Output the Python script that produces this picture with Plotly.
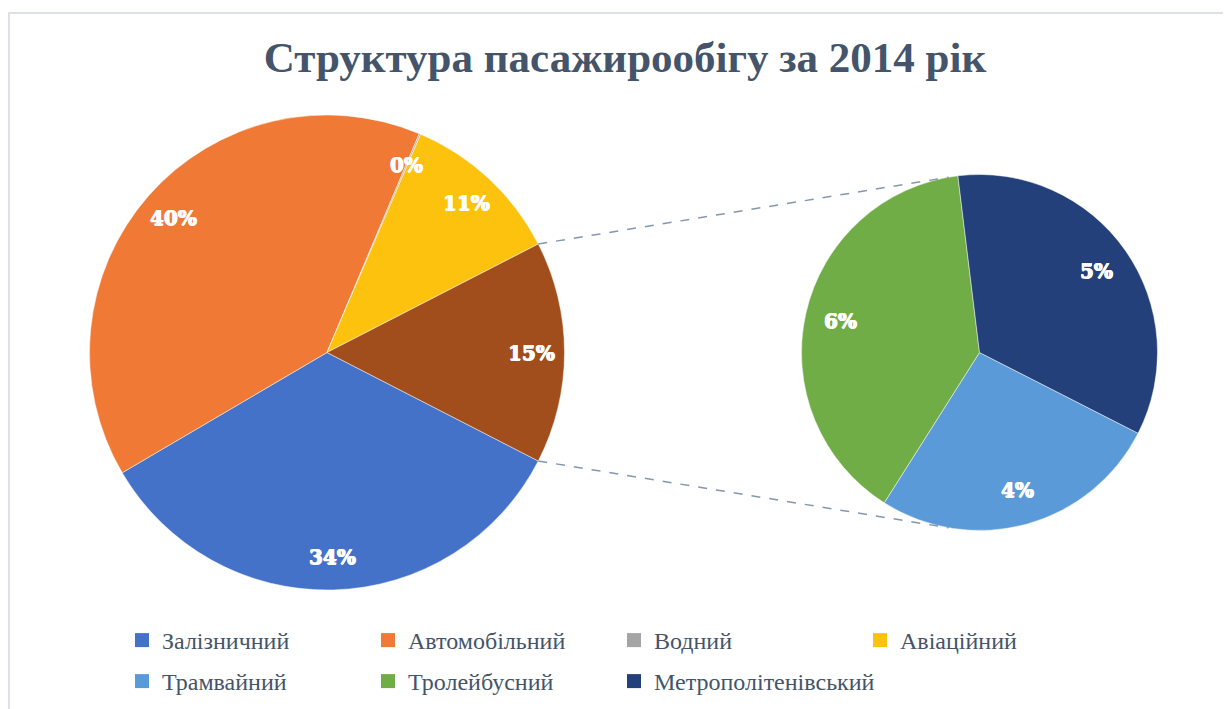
import math
import plotly.graph_objects as go

W, H = 1231, 709
OFF = 8                      # browser body margin
FW, FH = W - OFF, H - OFF    # figure size

# ---- data ----
main_labels = ["Залізничний", "Автомобільний", "Водний", "Авіаційний", "Інші"]
main_values = [34.0, 39.8, 0.1, 11.0, 15.1]
main_colors = ["#4472C8", "#F07A35", "#A5A5A5", "#FCC20E", "#A24E1C"]

sub_labels = ["Трамвайний", "Тролейбусний", "Метрополітенівський"]
sub_values = [4.0, 5.9, 5.2]
sub_colors = ["#5A9AD8", "#71AD46", "#24407A"]

legend_row1 = ["Залізничний", "Автомобільний", "Водний", "Авіаційний"]
legend_row1_colors = ["#4472C8", "#F07A35", "#A5A5A5", "#FCC20E"]
legend_row2 = ["Трамвайний", "Тролейбусний", "Метрополітенівський"]
legend_row2_colors = ["#5A9AD8", "#71AD46", "#24407A"]

title_text = "Структура пасажирообігу за 2014 рік"

total = sum(main_values)
main_text = [f"{round(v / total * 100)}%" for v in main_values]
sub_text = [f"{round(v / total * 100)}%" for v in sub_values]

# ---- geometry (screen pixels) ----
mcx, mcy, mr = 327.0, 352.5, 237.5
scx, scy, sr = 979.5, 352.5, 178.0
SUB_ROTATION = 117
MAIN_LABEL_R = 0.86
SUB_LABEL_R = 0.80


def px(x):
    return (x - OFF) / FW


def py(y):
    return 1 - (y - OFF) / FH


other_share = main_values[-1] / total
main_rotation = 90 + other_share * 360 / 2

serif = "Liberation Serif, Times New Roman, Tinos, serif"
slice_line = dict(color="rgba(255,255,255,0.6)", width=0.8)

fig = go.Figure()

fig.add_trace(go.Pie(
    labels=main_labels, values=main_values, sort=False, direction="clockwise",
    rotation=main_rotation, textinfo="none", hoverinfo="label+percent",
    marker=dict(colors=main_colors, line=slice_line),
    domain=dict(x=[px(mcx - mr), px(mcx + mr)], y=[py(mcy + mr), py(mcy - mr)]),
    showlegend=False,
))

fig.add_trace(go.Pie(
    labels=sub_labels, values=sub_values, sort=False, direction="clockwise",
    rotation=SUB_ROTATION, textinfo="none", hoverinfo="label+percent",
    marker=dict(colors=sub_colors, line=slice_line),
    domain=dict(x=[px(scx - sr), px(scx + sr)], y=[py(scy + sr), py(scy - sr)]),
    showlegend=False,
))

# legend entries (two rows, aligned columns)
for name, col in zip(legend_row1, legend_row1_colors):
    fig.add_trace(go.Scatter(x=[None], y=[None], mode="markers", name=name, legend="legend",
                             marker=dict(symbol="square", size=14, color=col)))
for name, col in zip(legend_row2, legend_row2_colors):
    fig.add_trace(go.Scatter(x=[None], y=[None], mode="markers", name=name, legend="legend2",
                             marker=dict(symbol="square", size=14, color=col)))
# empty 4th slot so the second row keeps the same column grid width
fig.add_trace(go.Scatter(x=[None], y=[None], mode="markers", name=" ", legend="legend2",
                         hoverinfo="skip", marker=dict(symbol="square", size=14, color="rgba(0,0,0,0)")))

# data labels, placed along slice bisectors
label_font = dict(family="DejaVu Serif", size=20, color="white",
                  shadow="0.6px 0 0 white, -0.6px 0 0 white, 0 0.5px 0 white")
annotations = []


def add_labels(values, texts, start, cx, cy, r, frac):
    acc = start
    s = sum(values)
    for v, t in zip(values, texts):
        span = v / s * 360
        a = math.radians(acc + span / 2)
        acc += span
        x = cx + frac * r * math.sin(a)
        y = cy - frac * r * math.cos(a)
        annotations.append(dict(x=px(x), y=py(y), xref="paper", yref="paper", text=f"<b>{t}</b>",
                                showarrow=False, xanchor="center", yanchor="middle", font=label_font))


add_labels(main_values, main_text, main_rotation, mcx, mcy, mr, MAIN_LABEL_R)
add_labels(sub_values, sub_text, SUB_ROTATION, scx, scy, sr, SUB_LABEL_R)

# connector lines between "other" slice and secondary pie
a1 = math.radians(main_rotation - other_share * 360)
a2 = math.radians(main_rotation)
p1 = (mcx + mr * math.sin(a1), mcy - mr * math.cos(a1))
p2 = (mcx + mr * math.sin(a2), mcy - mr * math.cos(a2))
q1 = (scx + sr * math.sin(math.radians(-10)), scy - sr * math.cos(math.radians(-10)))
q2 = (scx + sr * math.sin(math.radians(190)), scy - sr * math.cos(math.radians(190)))

connector = dict(color="#8497B0", width=1.5, dash="dash")
shapes = [
    dict(type="line", xref="paper", yref="paper", x0=px(p1[0]), y0=py(p1[1]),
         x1=px(q1[0]), y1=py(q1[1]), line=connector),
    dict(type="line", xref="paper", yref="paper", x0=px(p2[0]), y0=py(p2[1]),
         x1=px(q2[0]), y1=py(q2[1]), line=connector),
    dict(type="rect", xref="paper", yref="paper", x0=px(9), y0=py(730), x1=px(1260),
         y1=py(13), line=dict(color="#DDE1E6", width=2), layer="below"),
]

legend_common = dict(orientation="h", entrywidth=201, xanchor="left", yanchor="middle",
                     font=dict(family=serif, size=24, color="#44546A"),
                     bgcolor="rgba(0,0,0,0)", itemclick=False)

fig.update_layout(
    width=FW, height=FH, margin=dict(l=0, r=0, t=0, b=0),
    paper_bgcolor="white", plot_bgcolor="white",
    title=dict(text=f"<b>{title_text}</b>", x=px(625), y=py(57), xanchor="center", yanchor="middle",
               font=dict(family=serif, size=43, color="#44546A")),
    xaxis=dict(visible=False), yaxis=dict(visible=False),
    legend=dict(x=px(122), y=py(640.5), **legend_common),
    legend2=dict(x=px(122), y=py(681.5), **legend_common),
    shapes=shapes, annotations=annotations,
)

fig.write_html("out.html")
